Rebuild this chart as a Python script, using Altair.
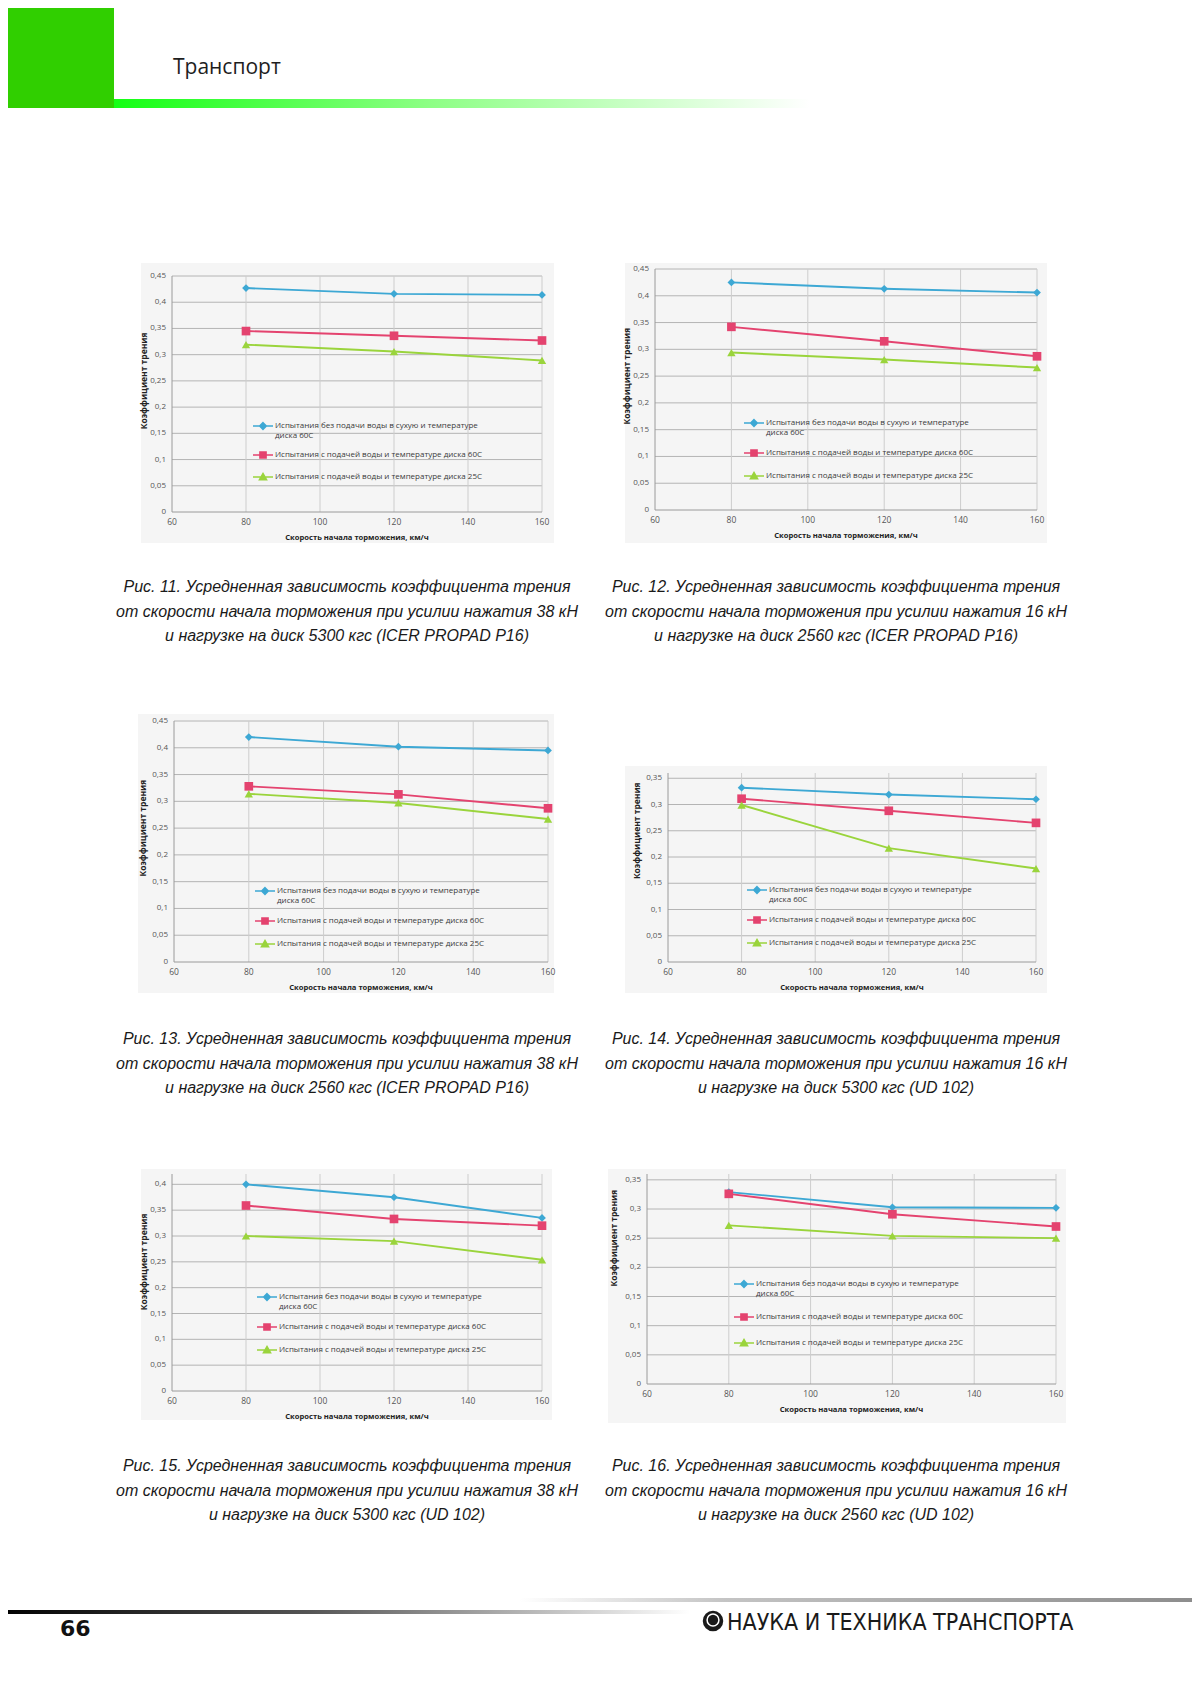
import altair as alt
import pandas as pd

W, H, M = 1184, 1681, 8

# ---------------- data ----------------
speeds = [80, 120, 160]
x_ticks = [60, 80, 100, 120, 140, 160]
series_labels = [
    "Испытания без подачи воды в сухую и температуре~диска 60С",
    "Испытания с подачей воды и температуре диска 60С",
    "Испытания с подачей воды и температуре диска 25С",
]
y_ticks_45 = [0, 0.05, 0.1, 0.15, 0.2, 0.25, 0.3, 0.35, 0.4, 0.45]
y_ticks_40 = [0, 0.05, 0.1, 0.15, 0.2, 0.25, 0.3, 0.35, 0.4]
y_ticks_35 = [0, 0.05, 0.1, 0.15, 0.2, 0.25, 0.3, 0.35]

fig11_dry = [0.427, 0.416, 0.414]
fig11_wet60 = [0.345, 0.336, 0.327]
fig11_wet25 = [0.319, 0.306, 0.289]

fig12_dry = [0.425, 0.413, 0.406]
fig12_wet60 = [0.342, 0.315, 0.287]
fig12_wet25 = [0.294, 0.281, 0.266]

fig13_dry = [0.420, 0.402, 0.395]
fig13_wet60 = [0.328, 0.313, 0.287]
fig13_wet25 = [0.314, 0.297, 0.267]

fig14_dry = [0.332, 0.319, 0.310]
fig14_wet60 = [0.311, 0.288, 0.265]
fig14_wet25 = [0.299, 0.217, 0.178]

fig15_dry = [0.400, 0.375, 0.335]
fig15_wet60 = [0.359, 0.333, 0.320]
fig15_wet25 = [0.300, 0.290, 0.254]

fig16_dry = [0.329, 0.303, 0.302]
fig16_wet60 = [0.326, 0.291, 0.270]
fig16_wet25 = [0.272, 0.254, 0.250]

y_title = "Коэффициент трения"
x_title = "Скорость начала торможения, км/ч"

caption_line1 = "Усредненная зависимость коэффициента трения"
caption_11 = ["Рис. 11. " + caption_line1,
              "от скорости начала торможения при усилии нажатия 38 кН",
              "и нагрузке на диск 5300 кгс (ICER PROPAD P16)"]
caption_12 = ["Рис. 12. " + caption_line1,
              "от скорости начала торможения при усилии нажатия 16 кН",
              "и нагрузке на диск 2560 кгс (ICER PROPAD P16)"]
caption_13 = ["Рис. 13. " + caption_line1,
              "от скорости начала торможения при усилии нажатия 38 кН",
              "и нагрузке на диск 2560 кгс (ICER PROPAD P16)"]
caption_14 = ["Рис. 14. " + caption_line1,
              "от скорости начала торможения при усилии нажатия 16 кН",
              "и нагрузке на диск 5300 кгс (UD 102)"]
caption_15 = ["Рис. 15. " + caption_line1,
              "от скорости начала торможения при усилии нажатия 38 кН",
              "и нагрузке на диск 5300 кгс (UD 102)"]
caption_16 = ["Рис. 16. " + caption_line1,
              "от скорости начала торможения при усилии нажатия 16 кН",
              "и нагрузке на диск 2560 кгс (UD 102)"]

header_text = "Транспорт"
page_number = "66"
journal_name = "НАУКА И ТЕХНИКА ТРАНСПОРТА"

# ---------------- styles ----------------
COLORS = ["#3da8d4", "#e4436f", "#9ad43c"]
SHAPES = ["diamond", "square", "triangle-up"]
SIZES = [60, 75, 70]
LEG_PATHS = [
    "M-1,0H1M0,-0.32L0.32,0L0,0.32L-0.32,0Z",
    "M-1,0H1M-0.3,-0.3H0.3V0.3H-0.3Z",
    "M-1,0H1M0,-0.34L0.34,0.26H-0.34Z",
]
HGRID = "#b4b4b4"
VGRID = "#cdcdcd"
AXIS_C = "#9a9a9a"
FRAME_BG = "#f5f5f5"
FONT = "Open Sans"
LABEL_C = "#555555"

one = pd.DataFrame({"k": [0]})


def P(v):
    return v - M


def panel(cfg):
    pid = cfg["pid"]
    keys = [f"{pid}|{lab}" for lab in series_labels]
    rows = []
    for key, vals in zip(keys, cfg["vals"]):
        for s, v in zip(speeds, vals):
            rows.append({"speed": s, "mu": v, "series": key})
    df = pd.DataFrame(rows)
    xr = [P(cfg["x"][0]), P(cfg["x"][1])]
    yr = [P(cfg["y"][0]), P(cfg["y"][1])]
    ymax = cfg["ymax"]
    ticks = cfg["yticks"]
    xs = alt.Scale(domain=[60, 160], range=xr, nice=False, zero=False)
    ys = alt.Scale(domain=[0, ymax], range=yr, nice=False, zero=False)

    def XD(v):
        return alt.XDatum(v, type="quantitative", scale=xs, axis=None)

    def YD(v):
        return alt.YDatum(v, type="quantitative", scale=ys, axis=None)

    ytab = pd.DataFrame({"v": ticks, "lab": [str(t).replace(".", ",") for t in ticks]})
    xtab = pd.DataFrame({"v": x_ticks, "lab": [str(t) for t in x_ticks]})

    hgrid = alt.Chart(ytab.iloc[1:]).mark_rule(color=HGRID, strokeWidth=1).encode(
        y=alt.Y("v:Q", scale=ys, axis=None), x=XD(60), x2=alt.X2Datum(160))
    vgrid = alt.Chart(xtab.iloc[1:]).mark_rule(color=VGRID, strokeWidth=1).encode(
        x=alt.X("v:Q", scale=xs, axis=None), y=YD(0), y2=alt.Y2Datum(ymax))
    xline = alt.Chart(one).mark_rule(color=AXIS_C, strokeWidth=1).encode(
        y=YD(0), x=XD(60), x2=alt.X2Datum(160))
    yline = alt.Chart(one).mark_rule(color=AXIS_C, strokeWidth=1).encode(
        x=XD(60), y=YD(0), y2=alt.Y2Datum(ymax))
    ylabels = alt.Chart(ytab).mark_text(
        align="right", baseline="middle", dx=-6, font=FONT, fontSize=8, color=LABEL_C
    ).encode(y=alt.Y("v:Q", scale=ys, axis=None), x=XD(60), text="lab:N")
    xlabels = alt.Chart(xtab).mark_text(
        align="center", baseline="middle", dy=10, font=FONT, fontSize=8.5, color=LABEL_C
    ).encode(x=alt.X("v:Q", scale=xs, axis=None), y=YD(0), text="lab:N")
    ytitle = alt.Chart(one).mark_text(
        text=y_title, angle=270, align="center", baseline="middle", font=FONT,
        fontSize=8.5, fontWeight="bold", color="#222222"
    ).encode(x=alt.value(xr[0] - cfg["ytitle_gap"]), y=YD(0.25))
    xtitle = alt.Chart(one).mark_text(
        text=x_title, align="center", baseline="middle", dy=26, font=FONT,
        fontSize=7.6, fontWeight="bold", color="#222222"
    ).encode(x=XD(110), y=YD(0))

    layers = [hgrid, vgrid, xline, yline, ylabels, xlabels, ytitle, xtitle]
    for key, col in zip(keys, COLORS):
        layers.append(
            alt.Chart(df).transform_filter(alt.datum.series == key)
            .mark_line(color=col, strokeWidth=1.9)
            .encode(x=alt.X("speed:Q", scale=xs, axis=None),
                    y=alt.Y("mu:Q", scale=ys, axis=None))
        )
    for key, col, shp, sz in zip(keys, COLORS, SHAPES, SIZES):
        layers.append(
            alt.Chart(df).transform_filter(alt.datum.series == key)
            .mark_point(color=col, shape=shp, filled=True, size=sz, opacity=1)
            .encode(x=alt.X("speed:Q", scale=xs, axis=None),
                    y=alt.Y("mu:Q", scale=ys, axis=None))
        )
    lx, ly = cfg["leg"]
    leg = alt.Legend(
        orient="none", legendX=P(lx), legendY=P(ly) - 11, title=None,
        labelExpr="split(split(datum.label, '|')[1], '~')",
        symbolSize=400, symbolStrokeWidth=1.7, symbolOpacity=1,
        labelFont=FONT, labelFontSize=8, labelColor="#3a3a3a",
        labelOffset=1, labelLimit=400, rowPadding=cfg["rowpad"], padding=0,
        direction="vertical",
    )
    leg_df = pd.DataFrame({"series": keys})
    layers.append(
        alt.Chart(leg_df).transform_filter("false")
        .mark_point(filled=True, opacity=1)
        .encode(
            fill=alt.Fill("series:N", scale=alt.Scale(domain=keys, range=COLORS), legend=leg),
            stroke=alt.Stroke("series:N", scale=alt.Scale(domain=keys, range=COLORS), legend=leg),
            shape=alt.Shape("series:N", scale=alt.Scale(domain=keys, range=LEG_PATHS), legend=leg),
        )
    )
    return alt.layer(*layers)


panels_cfg = [
    dict(pid="11", vals=(fig11_dry, fig11_wet60, fig11_wet25), x=(172, 542), y=(512, 276),
         ymax=0.45, yticks=y_ticks_45, frame=(141, 263, 554, 543), leg=(252, 426), rowpad=4,
         ytitle_gap=28),
    dict(pid="12", vals=(fig12_dry, fig12_wet60, fig12_wet25), x=(655, 1037), y=(510, 269),
         ymax=0.45, yticks=y_ticks_45, frame=(625, 263, 1047, 543), leg=(743, 423), rowpad=5,
         ytitle_gap=28),
    dict(pid="13", vals=(fig13_dry, fig13_wet60, fig13_wet25), x=(174, 548), y=(962, 721),
         ymax=0.45, yticks=y_ticks_45, frame=(138, 714, 554, 993), leg=(254, 891), rowpad=5,
         ytitle_gap=31),
    dict(pid="14", vals=(fig14_dry, fig14_wet60, fig14_wet25), x=(668, 1036), y=(962, 773),
         ymax=0.36, yticks=y_ticks_35, frame=(625, 766, 1047, 993), leg=(746, 890), rowpad=5,
         ytitle_gap=31),
    dict(pid="15", vals=(fig15_dry, fig15_wet60, fig15_wet25), x=(172, 542), y=(1391, 1174),
         ymax=0.42, yticks=y_ticks_40, frame=(141, 1169, 552, 1420), leg=(256, 1297), rowpad=5,
         ytitle_gap=28),
    dict(pid="16", vals=(fig16_dry, fig16_wet60, fig16_wet25), x=(647, 1056), y=(1384, 1174),
         ymax=0.36, yticks=y_ticks_35, frame=(608, 1169, 1066, 1423), leg=(733, 1284), rowpad=8,
         ytitle_gap=33),
]

captions = [
    (caption_11, 347, 587), (caption_12, 836, 587),
    (caption_13, 347, 1039), (caption_14, 836, 1039),
    (caption_15, 347, 1466), (caption_16, 836, 1466),
]


def rect(x0, y0, x1, y1, fill):
    return alt.Chart(one).mark_rect(fill=fill, strokeWidth=0).encode(
        x=alt.value(P(x0)), x2=alt.value(P(x1)), y=alt.value(P(y0)), y2=alt.value(P(y1)))


def text(t, x, y, **kw):
    return alt.Chart(one).mark_text(text=t, **kw).encode(x=alt.value(P(x)), y=alt.value(P(y)))


def grad(stops):
    return alt.LinearGradient(
        gradient="linear", x1=0, x2=1, y1=0, y2=0,
        stops=[alt.GradientStop(color=c, offset=o) for o, c in stops])


deco = [
    rect(0, 0, 114, 108, "#30cf00"),
    alt.Chart(one).mark_rect(fill=grad([(0, "#14ff14"), (0.45, "#8cff84"), (1, "#ffffff")])).encode(
        x=alt.value(P(114)), x2=alt.value(P(810)), y=alt.value(P(99)), y2=alt.value(P(108))),
    text(header_text, 173, 68, font=FONT, fontSize=21, align="left", baseline="middle",
         color="#1e1e1e"),
    alt.Chart(one).mark_rect(fill=grad([(0, "#ffffff"), (0.3, "#c4c4c4"), (1, "#8c8c8c")])).encode(
        x=alt.value(P(520)), x2=alt.value(P(1200)), y=alt.value(P(1598)), y2=alt.value(P(1602))),
    alt.Chart(one).mark_rect(fill=grad([(0, "#000000"), (0.45, "#555555"), (1, "#ffffff")])).encode(
        x=alt.value(P(0)), x2=alt.value(P(690)), y=alt.value(P(1610)), y2=alt.value(P(1614))),
    text(page_number, 60, 1629, font="DejaVu Sans", fontWeight="bold", fontSize=22,
         align="left", baseline="middle", color="#111111"),
    alt.Chart(one).mark_point(shape="circle", filled=True, color="#1a1a1a", size=420, opacity=1).encode(
        x=alt.value(P(713)), y=alt.value(P(1621))),
    alt.Chart(one).mark_point(shape="circle", filled=False, color="#ffffff", size=140,
                              strokeWidth=1.5, opacity=1).encode(
        x=alt.value(P(713)), y=alt.value(P(1620))),
    text(journal_name, 727, 1623, font="Liberation Sans Narrow, DejaVu Sans Condensed, sans-serif",
         fontSize=23, align="left", baseline="middle", color="#1a1a1a"),
]

frames = [rect(*c["frame"], FRAME_BG) for c in panels_cfg]
panels = [panel(c) for c in panels_cfg]
caps = [
    text(lines, cx, cy, font="Liberation Sans", fontStyle="italic", fontSize=16,
         lineHeight=24.5, align="center", baseline="middle", color="#1a1a1a")
    for lines, cx, cy in captions
]

chart = alt.layer(*deco, *frames, *panels, *caps).resolve_scale(
    x="independent", y="independent", fill="independent", stroke="independent",
    shape="independent",
).resolve_legend(
    fill="independent", stroke="independent", shape="independent"
).properties(
    width=W, height=H, autosize=alt.AutoSizeParams(type="none"), padding=0,
    background="white",
).configure_view(strokeWidth=0)

chart.save("out.html", embed_options={"renderer": "svg", "actions": False})
